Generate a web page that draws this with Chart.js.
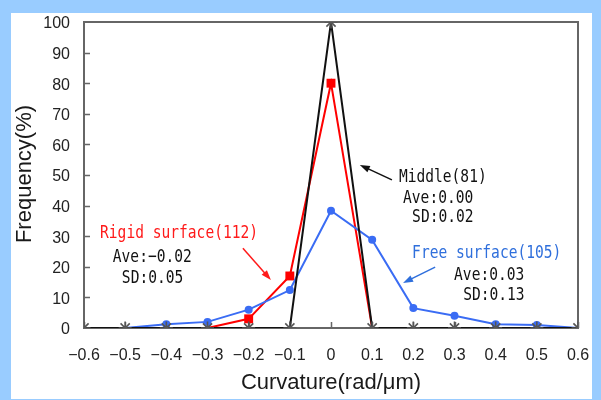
<!DOCTYPE html>
<html><head><meta charset="utf-8">
<script src="https://cdn.jsdelivr.net/npm/chart.js@4/dist/chart.umd.min.js"></script>
<style>html,body{margin:0;padding:0;background:#99ccff;}#wrap{width:601px;height:400px;}</style>
</head><body><div id="wrap"><canvas id="c" width="601" height="400"></canvas></div>
<script>
const curvature = [-0.6,-0.5,-0.4,-0.3,-0.2,-0.1,0,0.1,0.2,0.3,0.4,0.5,0.6];
const xTickLabels = ['−0.6','−0.5','−0.4','−0.3','−0.2','−0.1','0','0.1','0.2','0.3','0.4','0.5','0.6'];
const yTickLabels = ['0','10','20','30','40','50','60','70','80','90','100'];
const middleFreq = [0,0,0,0,0,0,100,0,0,0,0,0,0];
const rigidFreq  = [null,null,null,0,3,17,80,0,null,null,null,null,null];
const freeFreq   = [null,0,1.2,2,6,12.4,38.3,28.8,6.5,4,1.2,1,0];

const annoTexts = [
  {t:'Middle(81)', x:0.165, y:49.3, c:'#111'},
  {t:'Ave:0.00', x:0.175, y:42.5, c:'#111'},
  {t:'SD:0.02', x:0.197, y:36.3, c:'#111'},
  {t:'Rigid surface(112)', x:-0.561, y:31.0, c:'#ff1a1a'},
  {t:'Ave:−0.02', x:-0.53, y:23.2, c:'#111'},
  {t:'SD:0.05', x:-0.508, y:16.3, c:'#111'},
  {t:'Free surface(105)', x:0.197, y:24.5, c:'#2f6fdc'},
  {t:'Ave:0.03', x:0.299, y:17.3, c:'#111'},
  {t:'SD:0.13', x:0.321, y:10.8, c:'#111'}
];
const annoArrows = [
  {x1:0.148, y1:48.4, x2:0.070, y2:53.3, c:'#111'},
  {x1:-0.214, y1:26.1, x2:-0.146, y2:15.7, c:'#ff1a1a'},
  {x1:0.253, y1:19.9, x2:0.175, y2:14.7, c:'#2f6fdc'}
];

const toPts = arr => curvature.map((x,i)=>({x:x, y:arr[i]}));
const radiusUnlessZero = r => (c => (c.raw && c.raw.y === 0) ? 0 : r);

const decor = {
  id:'decor',
  beforeDraw(chart){
    const ctx = chart.ctx;
    ctx.save();
    ctx.fillStyle = '#99ccff';
    ctx.fillRect(0,0,chart.width,chart.height);
    ctx.fillStyle = '#ffffff';
    ctx.fillRect(11,13,581,386);
    ctx.restore();
  },
  beforeDatasetsDraw(chart){
    const ctx = chart.ctx, a = chart.chartArea;
    const xs = chart.scales.x, ys = chart.scales.y;
    ctx.save();
    ctx.strokeStyle = '#666';
    ctx.lineWidth = 2;
    ctx.strokeRect(a.left, a.top, a.right-a.left, a.bottom-a.top);
    ctx.lineWidth = 1.5;
    ctx.beginPath();
    for (let v=10; v<100; v+=10){
      const py = Math.round(ys.getPixelForValue(v))+0.5;
      ctx.moveTo(a.left, py); ctx.lineTo(a.left+6, py);
    }
    curvature.forEach(v=>{
      const px = Math.round(xs.getPixelForValue(v))+0.5;
      ctx.moveTo(px, a.bottom); ctx.lineTo(px, a.bottom-6);
    });
    ctx.stroke();
    ctx.restore();
  },
  afterDraw(chart){
    const ctx = chart.ctx, a = chart.chartArea;
    const xs = chart.scales.x, ys = chart.scales.y;
    ctx.save();
    ctx.fillStyle = '#1a1a1a';
    ctx.font = '22px "Liberation Sans", Arial, sans-serif';
    ctx.textAlign = 'center'; ctx.textBaseline = 'middle';
    ctx.fillText('Curvature(rad/μm)', (a.left+a.right)/2, 383);
    ctx.save();
    ctx.translate(25, 174);
    ctx.rotate(-Math.PI/2);
    ctx.fillText('Frequency(%)', 0, 0);
    ctx.restore();
    ctx.font = '18px "DejaVu Sans Mono", monospace';
    ctx.textAlign = 'left'; ctx.textBaseline = 'middle';
    annoTexts.forEach(o=>{
      ctx.save();
      ctx.fillStyle = o.c;
      ctx.translate(xs.getPixelForValue(o.x), ys.getPixelForValue(o.y));
      ctx.scale(0.81, 1);
      ctx.fillText(o.t, 0, 0);
      ctx.restore();
    });
    annoArrows.forEach(o=>{
      const x1 = xs.getPixelForValue(o.x1), y1 = ys.getPixelForValue(o.y1);
      const x2 = xs.getPixelForValue(o.x2), y2 = ys.getPixelForValue(o.y2);
      const ang = Math.atan2(y2-y1, x2-x1);
      ctx.strokeStyle = o.c; ctx.fillStyle = o.c; ctx.lineWidth = 1.5;
      ctx.beginPath(); ctx.moveTo(x1,y1);
      ctx.lineTo(x2-7*Math.cos(ang), y2-7*Math.sin(ang)); ctx.stroke();
      ctx.beginPath();
      ctx.moveTo(x2,y2);
      ctx.lineTo(x2-10*Math.cos(ang)+3.5*Math.sin(ang), y2-10*Math.sin(ang)-3.5*Math.cos(ang));
      ctx.lineTo(x2-10*Math.cos(ang)-3.5*Math.sin(ang), y2-10*Math.sin(ang)+3.5*Math.cos(ang));
      ctx.closePath(); ctx.fill();
    });
    ctx.restore();
  }
};

new Chart(document.getElementById('c'), {
  type:'line',
  data:{
    datasets:[
      {label:'Middle(81)', data:toPts(middleFreq), borderColor:'#111', borderWidth:2,
       pointStyle:'star', pointRadius:6.5, pointBorderColor:'#555', pointBorderWidth:1.6,
       pointBackgroundColor:'#555', order:0, tension:0},
      {label:'Rigid surface(112)', data:toPts(rigidFreq), borderColor:'#ff0000', borderWidth:2,
       pointStyle:'rect', pointRadius:radiusUnlessZero(6.3), pointBackgroundColor:'#ff0000', pointBorderColor:'#ff0000',
       pointBorderWidth:0, order:2, spanGaps:false, tension:0},
      {label:'Free surface(105)', data:toPts(freeFreq), borderColor:'#3a6cf4', borderWidth:2,
       pointStyle:'circle', pointRadius:radiusUnlessZero(4), pointBackgroundColor:'#3a6cf4', pointBorderColor:'#3a6cf4',
       pointBorderWidth:0, order:1, spanGaps:false, tension:0}
    ]
  },
  options:{
    responsive:false, animation:false, devicePixelRatio:1,
    layout:{padding:{left:0, top:22, right:23, bottom:0}},
    plugins:{legend:{display:false}, tooltip:{enabled:false}},
    scales:{
      x:{type:'linear', min:-0.6, max:0.6,
         afterBuildTicks(s){ s.ticks = curvature.map(v=>({value:v})); },
         afterFit(s){ s.height = 72; s.paddingLeft = 0; s.paddingRight = 0; },
         grid:{display:false, drawTicks:false},
         border:{display:false},
         ticks:{padding:18, color:'#222', font:{family:'"Liberation Sans", Arial, sans-serif', size:16},
                maxRotation:0, autoSkip:false,
                callback:(v,i)=>xTickLabels[i]}},
      y:{type:'linear', min:0, max:100,
         afterBuildTicks(s){ s.ticks = yTickLabels.map(v=>({value:Number(v)})); },
         afterFit(s){ s.width = 84; s.paddingTop = 0; s.paddingBottom = 0; },
         grid:{display:false, drawTicks:false},
         border:{display:false},
         ticks:{padding:14, labelOffset:2, color:'#222', font:{family:'"Liberation Sans", Arial, sans-serif', size:16},
                callback:(v,i)=>yTickLabels[i]}}
    }
  },
  plugins:[decor]
});
</script></body></html>
